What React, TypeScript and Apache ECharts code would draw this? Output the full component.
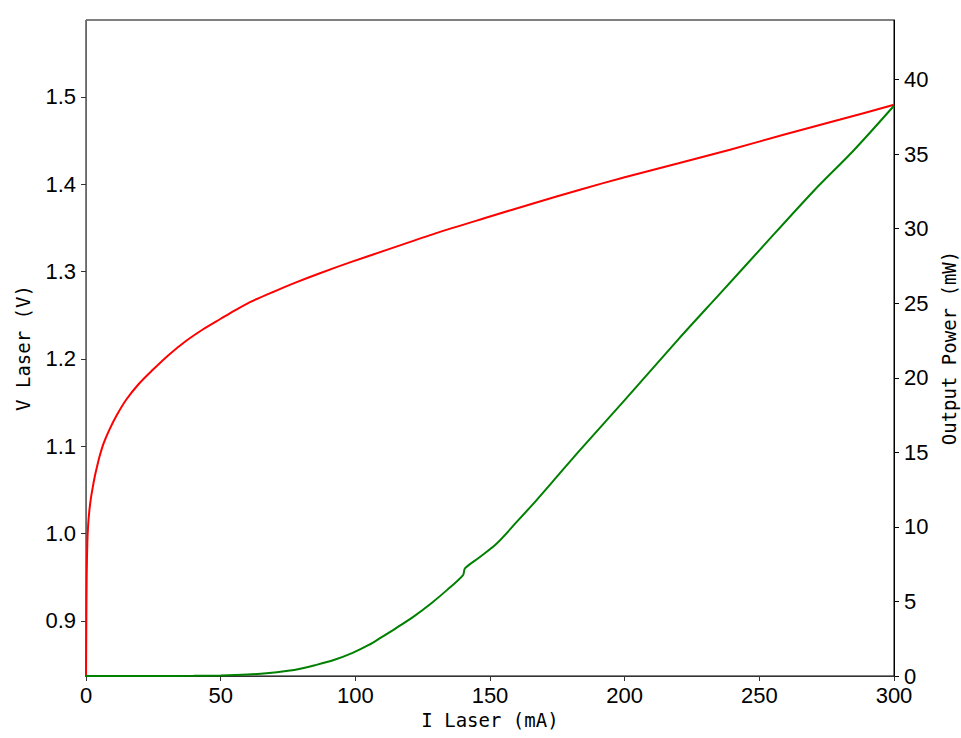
import React, { useEffect, useRef } from "react";
import * as echarts from "echarts";

// I Laser (mA) vs V Laser (V)
const voltageCurve: [number, number][] = [
  [0, 0.83], [0.1, 0.89], [0.25, 0.95], [0.5, 0.99], [0.8, 1.01], [1.2, 1.025], [1.8, 1.04],
  [2.5, 1.053], [3.3, 1.066], [4.2, 1.078], [5, 1.088], [6.5, 1.103], [8.66, 1.1188], [11.5, 1.136],
  [14.85, 1.153], [19.5, 1.171], [24.8, 1.1875], [30.5, 1.204], [37.1, 1.2205], [43.5, 1.234],
  [50, 1.246], [55.5, 1.256], [61.9, 1.2665], [70, 1.2774], [78, 1.2876], [86.6, 1.2978],
  [98, 1.3105], [111.4, 1.3245], [130, 1.344], [150, 1.363], [166, 1.378], [183.4, 1.3937],
  [200, 1.408], [220, 1.424], [239.1, 1.4395], [260, 1.4575], [280, 1.474], [300, 1.491],
];

// I Laser (mA) vs Output Power (mW)
const powerCurve: [number, number][] = [
  [0, 0], [10, 0], [20, 0], [30, 0], [40, 0.01], [50, 0.04], [60, 0.1], [67, 0.18],
  [75, 0.35], [80, 0.51], [85, 0.72], [92, 1.07], [99, 1.55], [105, 2.08], [109, 2.52],
  [115, 3.2], [121.5, 3.97], [128, 4.85], [134, 5.76], [140, 6.77], [140.7, 7.22],
  [146, 7.95], [152.5, 8.89], [160, 10.35], [167.3, 11.8], [175, 13.4], [183.4, 15.15],
  [200, 18.5], [220, 22.6], [235.4, 25.65], [250, 28.55], [270, 32.5], [285, 35.25],
  [300, 38.25],
];

const xTicks = [0, 50, 100, 150, 200, 250, 300];
const voltageTicks = [0.9, 1.0, 1.1, 1.2, 1.3, 1.4, 1.5];
const powerTicks = [0, 5, 10, 15, 20, 25, 30, 35, 40];

const xTitle = "I Laser (mA)";
const vTitle = "V Laser (V)";
const pTitle = "Output Power (mW)";

const tickFont = "'Liberation Sans', Arial, sans-serif";
const titleFont = "'DejaVu Sans Mono', 'Liberation Mono', monospace";

export default function App() {
  const ref = useRef<HTMLDivElement>(null);
  useEffect(() => {
    if (!ref.current) return;
    const chart = echarts.init(ref.current, undefined, { renderer: "svg" });
    const labelStyle = { color: "#000", fontSize: 22, fontFamily: tickFont };
    const nameStyle = { color: "#000", fontSize: 19, fontFamily: titleFont };
    chart.setOption({
      animation: false,
      backgroundColor: "#fff",
      grid: {
        left: 86, right: 67, top: 20, bottom: 62,
        outerBoundsMode: "none", containLabel: false,
        show: true, borderColor: "#000", borderWidth: 1, backgroundColor: "transparent",
      },
      xAxis: {
        type: "value", min: 0, max: 300, interval: 50,
        name: xTitle, nameLocation: "middle", nameGap: 33, nameTextStyle: nameStyle,
        axisLine: { show: true, onZero: false, lineStyle: { color: "#333", width: 1 } },
        axisTick: { show: true, inside: false, length: 5, lineStyle: { color: "#333" }, customValues: xTicks },
        axisLabel: { ...labelStyle, margin: 8, customValues: xTicks, formatter: (v: number) => String(v) },
        splitLine: { show: false },
      },
      yAxis: [
        {
          type: "value", min: 0.837, max: 1.588, position: "left",
          name: vTitle, nameLocation: "middle", nameGap: 54, nameRotate: 90, nameTextStyle: nameStyle,
          axisLine: { show: true, onZero: false, lineStyle: { color: "#666", width: 1 } },
          axisTick: { show: true, inside: false, length: 5, lineStyle: { color: "#333" }, customValues: voltageTicks },
          axisLabel: { ...labelStyle, margin: 10, customValues: voltageTicks, formatter: (v: number) => v.toFixed(1) },
          splitLine: { show: false },
        },
        {
          type: "value", min: 0, max: 44, position: "right",
          name: pTitle, nameLocation: "middle", nameGap: 42, nameRotate: 90, nameTextStyle: nameStyle,
          axisLine: { show: true, onZero: false, lineStyle: { color: "#000", width: 1 } },
          axisTick: { show: true, inside: false, length: 5, lineStyle: { color: "#000" }, customValues: powerTicks },
          axisLabel: { ...labelStyle, margin: 10, customValues: powerTicks, formatter: (v: number) => String(v) },
          splitLine: { show: false },
        },
      ],
      series: [
        {
          type: "line", yAxisIndex: 0, data: voltageCurve, showSymbol: false,
          smooth: 0.3,
          lineStyle: { color: "#ff0000", width: 2 }, clip: true, z: 3,
        },
        {
          type: "line", yAxisIndex: 1, data: powerCurve, showSymbol: false,
          smooth: 0.3,
          lineStyle: { color: "#008000", width: 2 }, clip: true, z: 3,
        },
      ],
    });
    return () => chart.dispose();
  }, []);
  return <div ref={ref} style={{ width: 961, height: 738, position: "absolute", left: 0, top: 0 }} />;
}
